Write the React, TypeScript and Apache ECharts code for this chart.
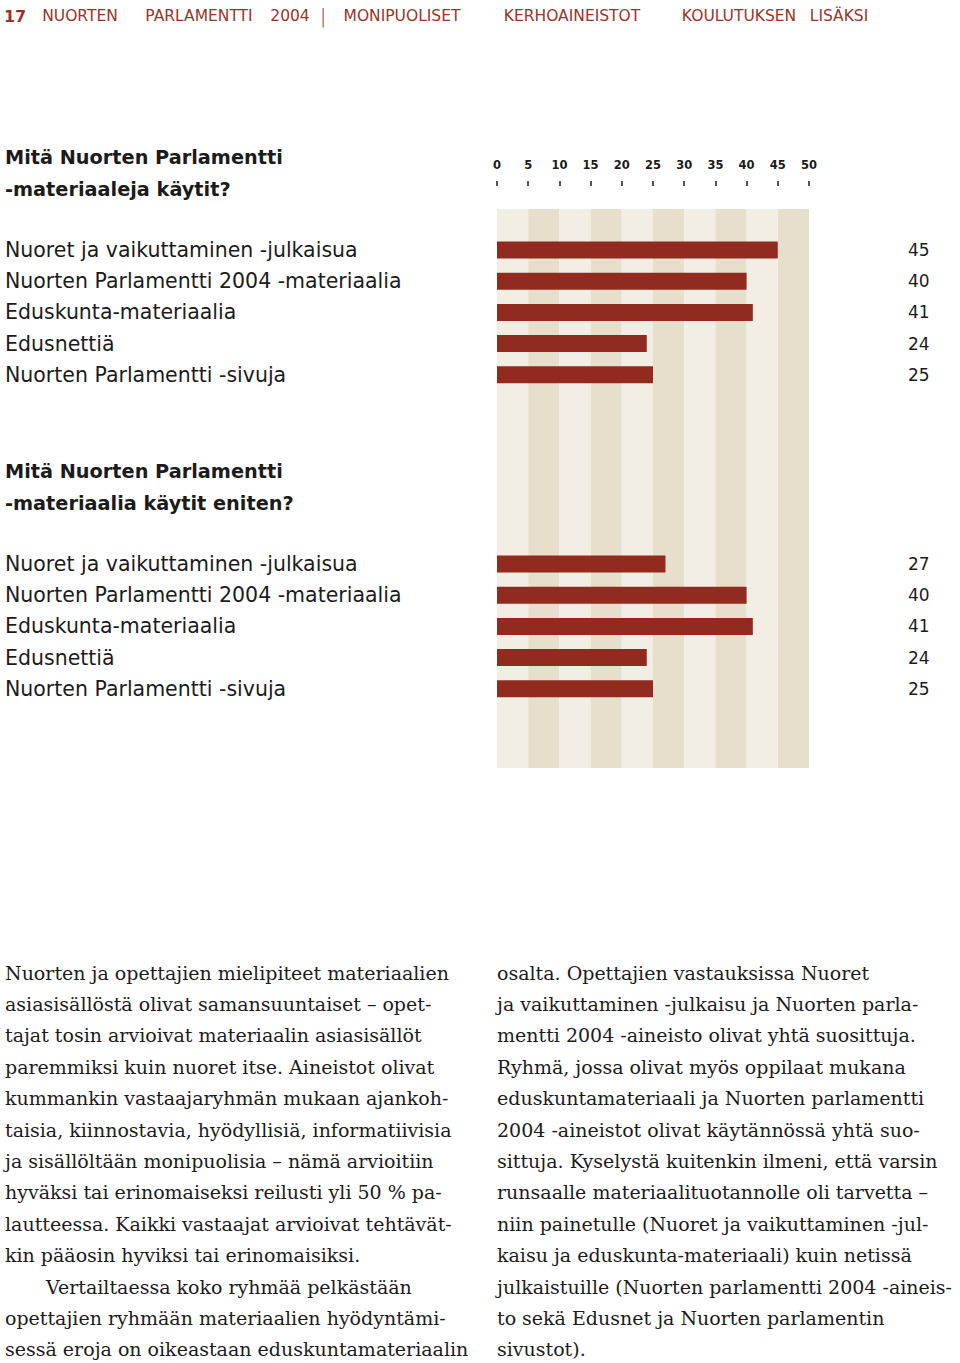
import React, { useEffect, useRef } from "react";
import * as echarts from "echarts";

// ---------- data ----------
const headerNumber = "17";
const headerWords = [
  "NUORTEN",
  "PARLAMENTTI",
  "2004",
  "|",
  "MONIPUOLISET",
  "KERHOAINEISTOT",
  "KOULUTUKSEN",
  "LISÄKSI",
];
const question1 = ["Mitä Nuorten Parlamentti", "-materiaaleja käytit?"];
const question2 = ["Mitä Nuorten Parlamentti", "-materiaalia käytit eniten?"];
const categories = [
  "Nuoret ja vaikuttaminen -julkaisua",
  "Nuorten Parlamentti 2004 -materiaalia",
  "Eduskunta-materiaalia",
  "Edusnettiä",
  "Nuorten Parlamentti -sivuja",
];
const usedValues = [45, 40, 41, 24, 25];
const mostUsedValues = [27, 40, 41, 24, 25];
const axisMin = 0;
const axisMax = 50;
const axisStep = 5;

const leftColumn = [
  "Nuorten ja opettajien mielipiteet materiaalien",
  "asiasisällöstä olivat samansuuntaiset – opet-",
  "tajat tosin arvioivat materiaalin asiasisällöt",
  "paremmiksi kuin nuoret itse. Aineistot olivat",
  "kummankin vastaajaryhmän mukaan ajankoh-",
  "taisia, kiinnostavia, hyödyllisiä, informatiivisia",
  "ja sisällöltään monipuolisia – nämä arvioitiin",
  "hyväksi tai erinomaiseksi reilusti yli 50 % pa-",
  "lautteessa. Kaikki vastaajat arvioivat tehtävät-",
  "kin pääosin hyviksi tai erinomaisiksi.",
  "Vertailtaessa koko ryhmää pelkästään",
  "opettajien ryhmään materiaalien hyödyntämi-",
  "sessä eroja on oikeastaan eduskuntamateriaalin",
];
const rightColumn = [
  "osalta. Opettajien vastauksissa Nuoret",
  "ja vaikuttaminen -julkaisu ja Nuorten parla-",
  "mentti 2004 -aineisto olivat yhtä suosittuja.",
  "Ryhmä, jossa olivat myös oppilaat mukana",
  "eduskuntamateriaali ja Nuorten parlamentti",
  "2004 -aineistot olivat käytännössä yhtä suo-",
  "sittuja. Kyselystä kuitenkin ilmeni, että varsin",
  "runsaalle materiaalituotannolle oli tarvetta –",
  "niin painetulle (Nuoret ja vaikuttaminen -jul-",
  "kaisu ja eduskunta-materiaali) kuin netissä",
  "julkaistuille (Nuorten parlamentti 2004 -aineis-",
  "to sekä Edusnet ja Nuorten parlamentin",
  "sivustot).",
];

// ---------- layout / style ----------
const W = 960;
const H = 1363;
const SANS = "'DejaVu Sans', 'Noto Sans', sans-serif";
const SERIF = "'DejaVu Serif', 'Liberation Serif', serif";
const TEXT = "#1b1b1b";
const RED = "#922b1f";
const HEADER_RED = "#973528";
const STRIPE = ["#f3eee4", "#e6dfcc"];
const headerCenters = [80, 199, 290, 323, 402, 572, 739, 839];

function textEl(
  text: string,
  x: number,
  y: number,
  font: string,
  fill: string,
  align: string = "left"
) {
  return {
    type: "text",
    x,
    y,
    silent: true,
    style: { text, font, fill, align, verticalAlign: "middle" },
  };
}

export default function App() {
  const ref = useRef<HTMLDivElement>(null);

  useEffect(() => {
    if (!ref.current) return;
    const chart = echarts.init(ref.current, undefined, { renderer: "svg", width: W, height: H });

    const graphics: any[] = [];
    graphics.push(textEl(headerNumber, 15, 16, `bold 16px ${SANS}`, HEADER_RED, "center"));
    headerWords.forEach((w, i) => {
      graphics.push(
        textEl(
          w,
          headerCenters[i],
          16,
          w === "|" ? `200 20px ${SANS}` : `15.5px ${SANS}`,
          HEADER_RED,
          "center"
        )
      );
    });
    question1.forEach((t, i) => graphics.push(textEl(t, 5, 157 + i * 32, `bold 19.3px ${SANS}`, TEXT)));
    question2.forEach((t, i) => graphics.push(textEl(t, 5, 471 + i * 32, `bold 19.3px ${SANS}`, TEXT)));
    const lineStep = 31.4;
    leftColumn.forEach((t, i) =>
      graphics.push(textEl(t, i === 10 ? 46 : 5, 972.5 + i * lineStep, `19px ${SERIF}`, TEXT))
    );
    rightColumn.forEach((t, i) =>
      graphics.push(textEl(t, 497, 972.5 + i * lineStep, `19px ${SERIF}`, TEXT))
    );

    const catAxisLeft = (gridIndex: number) => ({
      gridIndex,
      type: "category",
      data: categories,
      inverse: true,
      axisLine: { show: false },
      axisTick: { show: false },
      splitLine: { show: false },
      axisLabel: {
        align: "left",
        margin: 492,
        color: TEXT,
        fontFamily: SANS,
        fontSize: 20.5,
        padding: [3, 0, 0, 0],
      },
    });
    const valAxisRight = (gridIndex: number, vals: number[]) => ({
      gridIndex,
      type: "category",
      position: "right",
      data: vals.map(String),
      inverse: true,
      axisLine: { show: false },
      axisTick: { show: false },
      splitLine: { show: false },
      axisLabel: {
        align: "left",
        margin: 99,
        color: TEXT,
        fontFamily: SANS,
        fontSize: 17,
        padding: [4, 0, 0, 0],
      },
    });
    const hiddenX = (gridIndex: number) => ({
      gridIndex,
      type: "value",
      min: axisMin,
      max: axisMax,
      show: false,
    });

    chart.setOption({
      animation: false,
      backgroundColor: "#ffffff",
      grid: [
        { left: 497, top: 209, width: 312, height: 559 },
        { left: 497, top: 234.4, width: 312, height: 156 },
        { left: 497, top: 548.4, width: 312, height: 156 },
      ],
      xAxis: [
        {
          gridIndex: 0,
          type: "value",
          min: axisMin,
          max: axisMax,
          interval: axisStep,
          position: "top",
          offset: 23,
          axisLine: { show: false, onZero: false },
          axisTick: { show: true, length: 5, lineStyle: { color: TEXT, width: 1.5 } },
          axisLabel: {
            margin: 15,
            color: TEXT,
            fontFamily: SANS,
            fontWeight: "bold",
            fontSize: 11.5,
          },
          splitLine: { show: false },
          splitArea: { show: true, areaStyle: { color: STRIPE } },
        },
        hiddenX(1),
        hiddenX(2),
      ],
      yAxis: [
        { gridIndex: 0, type: "value", min: 0, max: 1, show: false },
        catAxisLeft(1),
        valAxisRight(1, usedValues),
        catAxisLeft(2),
        valAxisRight(2, mostUsedValues),
      ],
      series: [
        {
          type: "bar",
          xAxisIndex: 1,
          yAxisIndex: 1,
          data: usedValues,
          barWidth: 17,
          itemStyle: { color: RED },
          silent: true,
        },
        {
          type: "bar",
          xAxisIndex: 2,
          yAxisIndex: 3,
          data: mostUsedValues,
          barWidth: 17,
          itemStyle: { color: RED },
          silent: true,
        },
      ],
      graphic: graphics,
    });

    return () => chart.dispose();
  }, []);

  return (
    <div
      ref={ref}
      style={{ position: "absolute", left: 0, top: 0, width: W, height: H, background: "#fff" }}
    />
  );
}
